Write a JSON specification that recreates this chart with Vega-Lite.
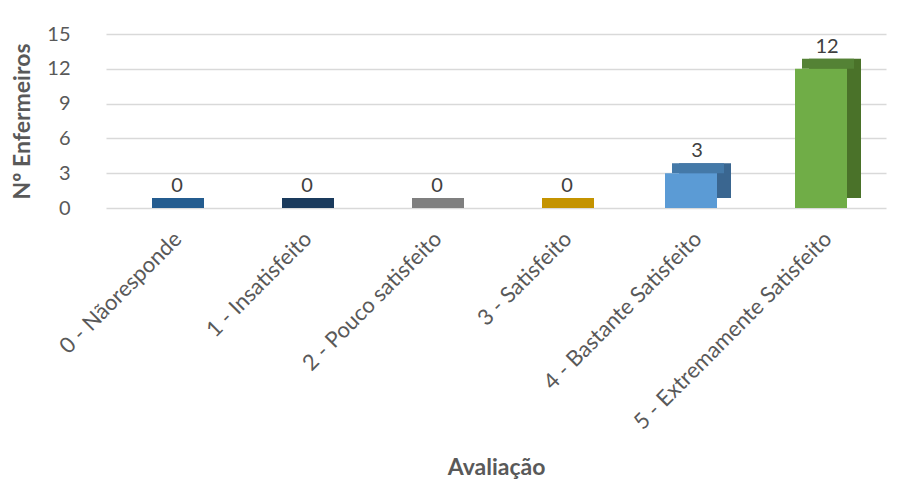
{
  "$schema": "https://vega.github.io/schema/vega-lite/v6.json",
  "autosize": {"type": "none"},
  "width": 780,
  "height": 174,
  "padding": {"left": 106, "top": 34, "right": 21, "bottom": 277},
  "background": "white",
  "config": {
    "font": "Lato",
    "view": {"stroke": null}
  },
  "data": {
    "values": [
      {"avaliacao": "0 - Nãoresponde", "n": 0},
      {"avaliacao": "1 - Insatisfeito", "n": 0},
      {"avaliacao": "2 - Pouco satisfeito", "n": 0},
      {"avaliacao": "3 - Satisfeito", "n": 0},
      {"avaliacao": "4 - Bastante Satisfeito", "n": 3},
      {"avaliacao": "5 - Extremamente Satisfeito", "n": 12}
    ]
  },
  "encoding": {
    "x": {
      "field": "avaliacao",
      "type": "nominal",
      "sort": null,
      "scale": {"paddingInner": 0.6, "paddingOuter": 0.3},
      "axis": {
        "title": "Avaliação",
        "titleFont": "Lato",
        "titleFontSize": 23,
        "titleFontWeight": "bold",
        "titleColor": "#595959",
        "titlePadding": 48,
        "labelAngle": -45,
        "labelFontSize": 22,
        "labelColor": "#595959",
        "labelPadding": 20,
        "labelLimit": 500,
        "domain": false,
        "ticks": false,
        "grid": false
      }
    },
    "y": {
      "field": "n",
      "type": "quantitative",
      "scale": {"domain": [0, 15], "nice": false},
      "axis": {
        "title": "Nº Enfermeiros",
        "titleFont": "Lato",
        "titleFontSize": 23,
        "titleFontWeight": "bold",
        "titleColor": "#595959",
        "titlePadding": 12,
        "values": [0, 3, 6, 9, 12, 15],
        "labelFontSize": 20,
        "labelColor": "#595959",
        "labelPadding": 36,
        "domain": false,
        "ticks": false,
        "grid": true,
        "gridColor": "#d9d9d9",
        "gridWidth": 1.5
      }
    }
  },
  "layer": [
    {
      "mark": {"type": "bar", "xOffset": 14, "yOffset": -10},
      "encoding": {
        "color": {
          "field": "avaliacao",
          "type": "nominal",
          "sort": null,
          "legend": null,
          "scale": {"range": ["#1d4a73", "#162c47", "#606060", "#947000", "#3a6690", "#4a7229"]}
        }
      }
    },
    {
      "mark": {"type": "tick", "thickness": 10, "xOffset": 7, "yOffset": -5, "bandSize": 52, "opacity": 1},
      "encoding": {
        "color": {
          "field": "avaliacao",
          "type": "nominal",
          "sort": null,
          "legend": null,
          "scale": {"range": ["#245c8f", "#1a3a5c", "#7f7f7f", "#c49300", "#4479a8", "#548235"]}
        }
      }
    },
    {
      "mark": {"type": "bar"},
      "encoding": {
        "color": {
          "field": "avaliacao",
          "type": "nominal",
          "sort": null,
          "legend": null,
          "scale": {"range": ["#255e91", "#203864", "#808080", "#c59300", "#5b9bd5", "#70ad47"]}
        }
      }
    },
    {
      "mark": {"type": "text", "dy": -22, "xOffset": 6, "fontSize": 20, "color": "#404040", "font": "Lato"},
      "encoding": {"text": {"field": "n", "type": "quantitative"}}
    }
  ],
  "resolve": {"scale": {"color": "independent"}}
}
